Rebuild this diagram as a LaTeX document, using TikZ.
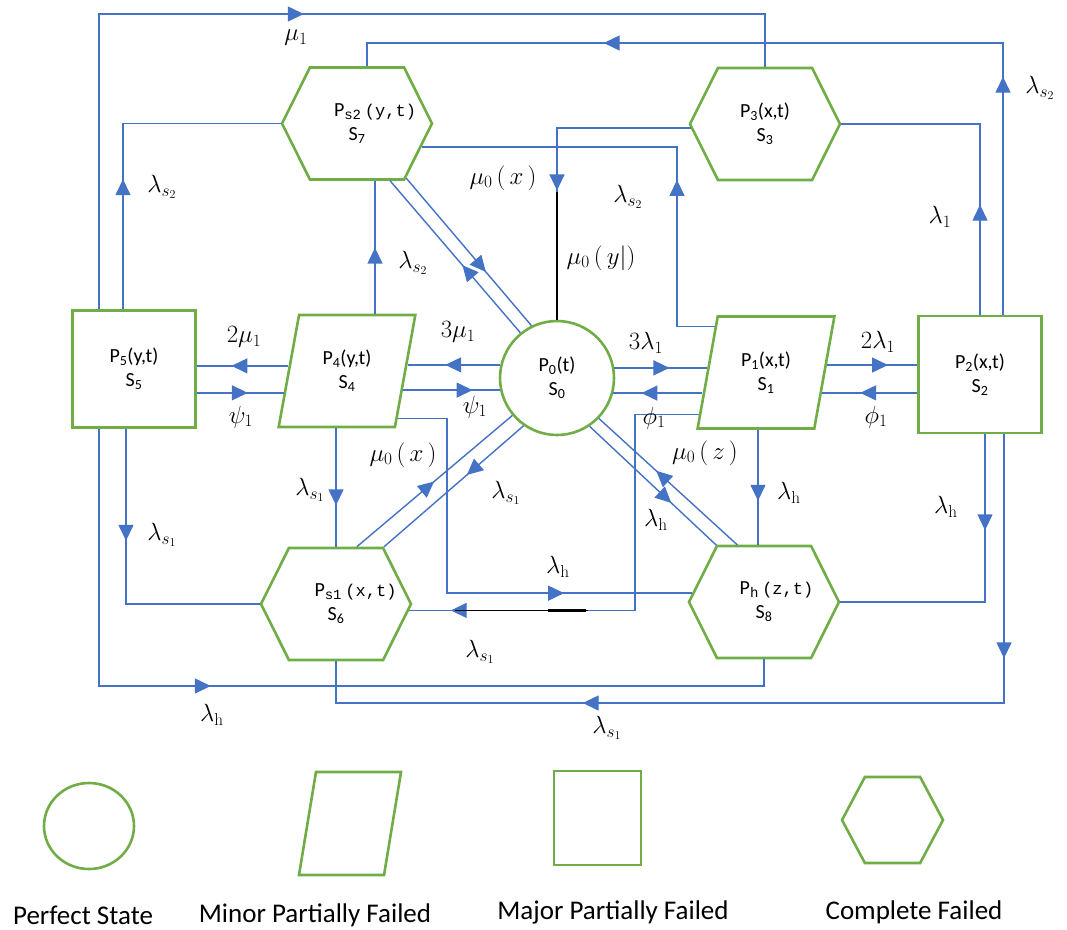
\documentclass[tikz,border=0pt]{standalone}
\usepackage[no-math]{fontspec}
\setmainfont{Carlito}
\setmonofont{Liberation Mono}
\usetikzlibrary{arrows.meta,shapes.geometric,shapes.symbols,decorations.markings,calc}

\definecolor{lineblue}{HTML}{4472C4}
\definecolor{stategreen}{HTML}{70AD47}

\newcommand{\monopart}[1]{{\fontsize{17}{22}\selectfont\ttfamily #1}}

\tikzset{
    statebox/.style={draw=stategreen, line width=2.6pt, inner sep=0pt, align=center,
        font=\fontsize{20}{24}\selectfont},
    perfect/.style={statebox, circle, minimum size=114pt},
    minor/.style={statebox, trapezium, trapezium left angle=76, trapezium right angle=104,
        trapezium stretches=true, minimum width=137pt, minimum height=112pt},
    major/.style={statebox, rectangle, minimum width=123pt, minimum height=117pt},
    complete/.style={statebox, signal, signal to=east and west, signal pointer angle=127,
        minimum width=150pt, minimum height=112pt},
    flow/.style={draw=lineblue, line width=1.4pt},
    flowtip/.style={postaction={decorate}, decoration={markings,
        mark=at position #1 with {\arrow{Triangle[length=16pt,width=15pt]}}}},
    flowtips/.style 2 args={postaction={decorate}, decoration={markings,
        mark=at position #1 with {\arrow{Triangle[length=16pt,width=15pt]}},
        mark=at position #2 with {\arrow{Triangle[length=16pt,width=15pt]}}}},
    rate/.style={font=\fontsize{25}{29}\selectfont, inner sep=0pt},
    keytext/.style={font=\fontsize{27}{32}\selectfont, inner sep=0pt},
}

\begin{document}
\begin{tikzpicture}[x=1pt, y=-1pt]
    \useasboundingbox (0,0) rectangle (1067,929);

    % states
    \node (s0) [perfect] at (557,378) {P\textsubscript{0}(t)\\S\textsubscript{0}};
    \node (s1) [minor] at (766,372.5) {P\textsubscript{1}(x,t)\\S\textsubscript{1}};
    \node (s2) [major] at (980,374.5) {P\textsubscript{2}(x,t)\\S\textsubscript{2}};
    \node (s3) [complete] at (765,124) {P\textsubscript{3}(x,t)\\S\textsubscript{3}};
    \node (s4) [minor] at (347,371) {P\textsubscript{4}(y,t)\\S\textsubscript{4}};
    \node (s5) [major] at (134,369) {P\textsubscript{5}(y,t)\\S\textsubscript{5}};
    \node (s6) [complete] at (336,604)
    {
        \makebox[0pt]{\hspace*{39pt}P\textsubscript{\ttfamily s1}\,\monopart{(x,t)}}\\S\textsubscript{6}
    };
    \node (s7) [complete] at (357,123.5)
    {
        \makebox[0pt]{\hspace*{36pt}P\textsubscript{\ttfamily s2}\,\monopart{(y,t)}}\\S\textsubscript{7}
    };
    \node (s8) [complete] at (764,602)
    {
        \makebox[0pt]{\hspace*{25pt}P\textsubscript{\ttfamily h}\,\monopart{(z,t)}}\\S\textsubscript{8}
    };

    % corners of the outer loops
    \coordinate (tl) at (99,14);
    \coordinate (tr) at (1003,43);
    \coordinate (bl) at (99,686);
    \coordinate (br) at (1004,703);
    \coordinate (c123) at (123,0);
    \coordinate (c126) at (126,0);
    \coordinate (c375) at (375,0);
    \coordinate (c447) at (447,0);
    \coordinate (c635) at (635,0);
    \coordinate (c677) at (677,0);
    \coordinate (c985) at (985,0);

    % outer loops
    \draw[flow, flowtip=500pt] (s5.north -| tl) -- (tl) -- (tl -| s3.north) -- (s3.north);
    \draw[flow, flowtips={238pt}{671pt}] (s2.north -| tr) -- (tr) -- (tr -| s7.80) -- (s7.80);
    \draw[flow, flowtip=130pt] (s5.north -| c123) |- (s7.west);
    \draw[flow, flowtip=66pt] (s4.north -| c375) -- (s7.south -| c375);
    \draw[flow, flowtip=184pt] (s1.138) -| (c677 |- s7.-20) -- (s7.-20);
    \draw[flow, flowtip=196pt] (s3.183) -| (s0.north);
    \draw[black, line width=1.4pt] (s0.north) -- ++(0,-128);
    \draw[flow, flowtip=110pt] (s2.north) |- (s3.east);

    % diagonals
    \draw[flow, flowtip=123pt] (s7.-48) -- (s0.116);
    \draw[flow, flowtip=89pt] (s0.129) -- (s7.-60);
    \draw[flow, flowtip=101pt] (s6.70) -- (s0.220);
    \draw[flow, flowtip=75pt] (s0.235) -- (s6.50);
    \draw[flow, flowtip=110pt] (s8.115) -- (s0.-44);
    \draw[flow, flowtip=112pt] (s0.-56) -- (s8.130);

    % middle row
    \draw[flow, flowtip=55pt] (s0.167) -- (s0.167 -| s4.6);
    \draw[flow, flowtip=70pt] (s4.-21 |- s0.192) -- (s0.192);
    \draw[flow, flowtip=57pt] (s4.175) -- (s4.175 -| s5.east);
    \draw[flow, flowtip=51pt] (s4.199 -| s5.east) -- (s4.199);
    \draw[flow, flowtip=55pt] (s0.10) -- (s0.10 -| s1.175);
    \draw[flow, flowtip=61pt] (s1.199 |- s0.-15) -- (s0.-15);
    \draw[flow, flowtip=61pt] (s1.7) -- (s1.7 -| s2.west);
    \draw[flow, flowtip=57pt] (s1.-20 -| s2.west) -- (s1.-20);

    % lower loops
    \draw[flow, flowtip=341pt] (s4.-43) -| (c447 |- s8.173) -- (s8.173);
    \draw[flow, flowtip=444pt] (s1.212) -| (c635 |- s6.-5) -- (s6.-5);
    \draw[black, line width=1.4pt] ([xshift=46pt]s6.-5) -- ([xshift=179pt]s6.-5);
    \draw[black, line width=3pt] ([xshift=139pt]s6.-5) -- ([xshift=177pt]s6.-5);
    \draw[flow, flowtip=77pt] (s6.north |- s4.south) -- (s6.north);
    \draw[flow, flowtip=71pt] (s8.96 |- s1.south) -- (s8.96);
    \draw[flow, flowtip=96pt] (s2.south -| c985) |- (s8.east);
    \draw[flow, flowtips={224pt}{690pt}] (s2.south -| br) -- (br) -| (s6.south);
    \draw[flow, flowtip=369pt] (s5.south -| bl) -- (bl) -| (s8.south);
    \draw[flow, flowtip=112pt] (s5.south -| c126) |- (s6.west);

    % rates
    \node (r_mu1) [rate] at (296,38) {$\mu_1$};
    \node (r_ls2_top) [rate] at (1040,88) {$\lambda_{s_2}$};
    \node (r_ls2_left) [rate] at (162,187) {$\lambda_{s_2}$};
    \node (r_ls2_s4) [rate] at (413,263) {$\lambda_{s_2}$};
    \node (r_ls2_s1) [rate] at (628,197) {$\lambda_{s_2}$};
    \node (r_mu0x_top) [rate] at (503,178) {$\mu_{0}\,(\,x\,)$};
    \node (r_mu0y) [rate] at (601,258) {$\mu_{0}\,(\,y|)$};
    \node (r_l1) [rate] at (940,217) {$\lambda_1$};
    \node (r_2mu1) [rate] at (244,337) {$2\mu_1$};
    \node (r_psi_left) [rate] at (241,417) {$\psi_{1}$};
    \node (r_3mu1) [rate] at (458,332) {$3\mu_1$};
    \node (r_psi_mid) [rate] at (475,407) {$\psi_{1}$};
    \node (r_3l1) [rate] at (646,343) {$3\lambda_1$};
    \node (r_phi_mid) [rate] at (654,418) {$\phi_{1}$};
    \node (r_2l1) [rate] at (878,342) {$2\lambda_1$};
    \node (r_phi_right) [rate] at (876,417) {$\phi_{1}$};
    \node (r_ls1_left) [rate] at (162,535) {$\lambda_{s_1}$};
    \node (r_ls1_s4) [rate] at (310,490) {$\lambda_{s_1}$};
    \node (r_mu0x_low) [rate] at (403,455) {$\mu_{0}\,(\,x\,)$};
    \node (r_ls1_diag) [rate] at (506,493) {$\lambda_{s_1}$};
    \node (r_mu0z) [rate] at (705,453) {$\mu_{0}\,(\,z\,)$};
    \node (r_lh_diag) [rate] at (656,520) {$\lambda_{\mathrm{h}}$};
    \node (r_lh_s1) [rate] at (789,493) {$\lambda_{\mathrm{h}}$};
    \node (r_lh_s2) [rate] at (946,507) {$\lambda_{\mathrm{h}}$};
    \node (r_lh_s4) [rate] at (558,567) {$\lambda_{\mathrm{h}}$};
    \node (r_ls1_s1) [rate] at (480,652) {$\lambda_{s_1}$};
    \node (r_lh_s5) [rate] at (212,715) {$\lambda_{\mathrm{h}}$};
    \node (r_ls1_s2) [rate] at (607,728) {$\lambda_{s_1}$};

    % key
    \node (k_perfect) [statebox, ellipse, minimum width=90pt, minimum height=86pt] at (89,826) {};
    \node (k_minor) [minor, inner sep=2pt, minimum width=102pt, minimum height=103pt] at (350,823.5) {};
    \node (k_major) [major, minimum width=87pt, minimum height=94pt] at (597.5,818) {};
    \node (k_complete) [complete, inner sep=2pt, minimum width=101pt, minimum height=86pt,
        signal pointer angle=124] at (892.5,820) {};
    \node (t_perfect) [keytext] at (83,915) {Perfect State};
    \node (t_minor) [keytext] at (315,915) {Minor Partially Failed};
    \node (t_major) [keytext] at (613,912) {Major Partially Failed};
    \node (t_complete) [keytext] at (914,912) {Complete Failed};
\end{tikzpicture}
\end{document}
